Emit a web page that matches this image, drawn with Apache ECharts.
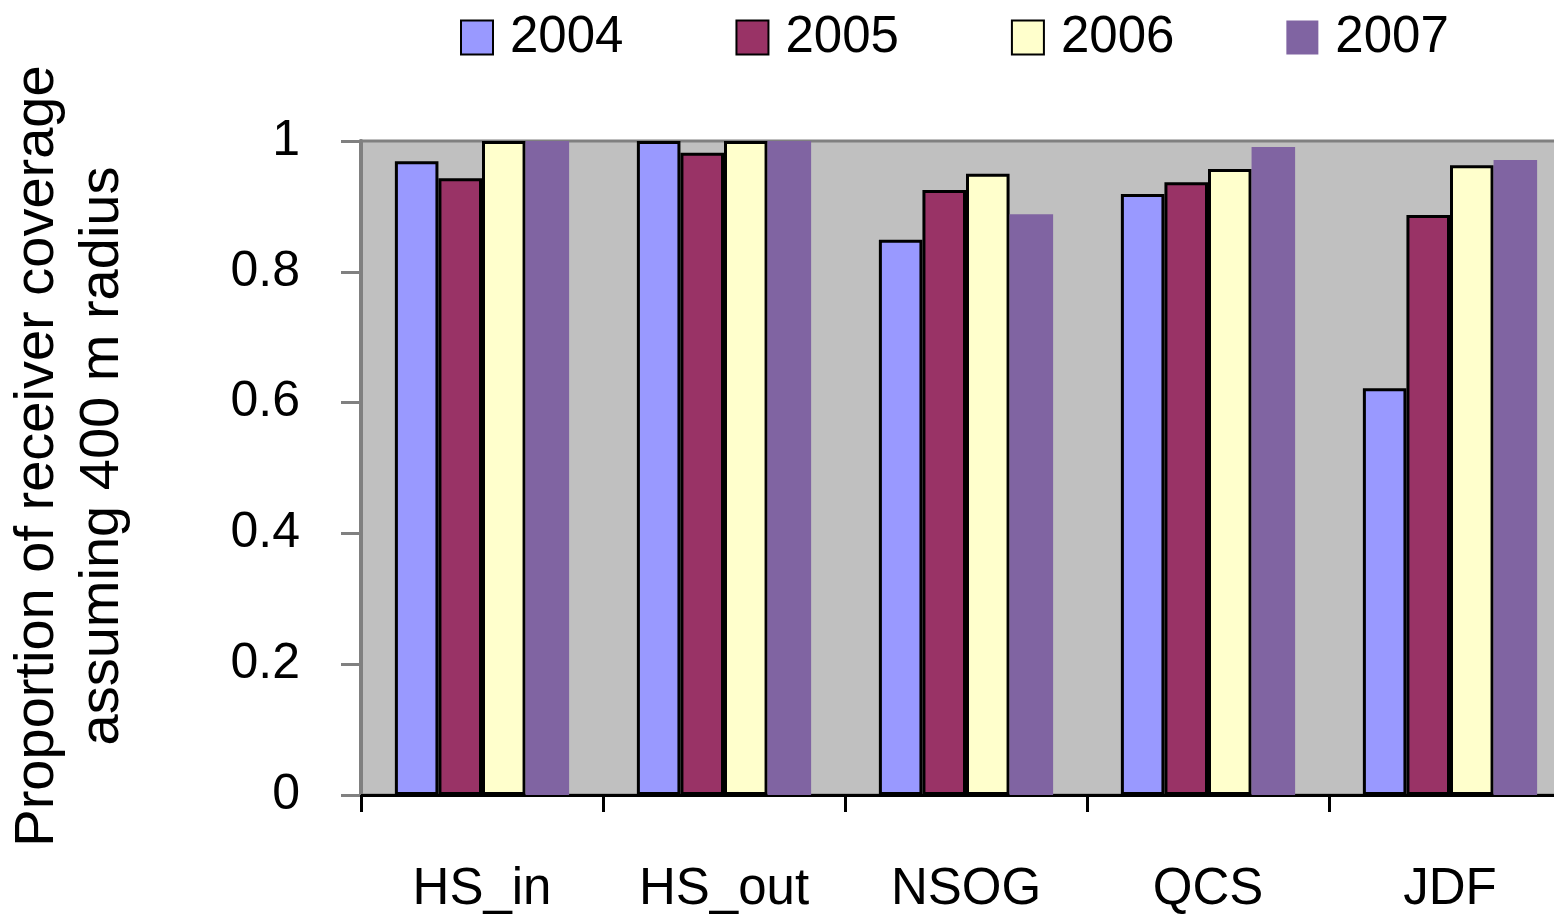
<!DOCTYPE html>
<html>
<head>
<meta charset="utf-8">
<script src="https://cdn.jsdelivr.net/npm/echarts@6/dist/echarts.min.js"></script>
<style>
  html, body { margin: 0; padding: 0; background: #fff; }
  #chart { width: 1554px; height: 922px; }
</style>
</head>
<body>
<div id="chart"></div>
<script>
var categories = ['HS_in', 'HS_out', 'NSOG', 'QCS', 'JDF'];
var years = ['2004', '2005', '2006', '2007'];
var v2004 = [0.969, 1.0, 0.849, 0.919, 0.622];
var v2005 = [0.943, 0.982, 0.925, 0.937, 0.887];
var v2006 = [1.0, 1.0, 0.950, 0.957, 0.963];
var v2007 = [1.0, 1.0, 0.888, 0.991, 0.971];
var yTicks = [0, 0.2, 0.4, 0.6, 0.8, 1];

var font = '"Liberation Sans", Arial, sans-serif';
var colors = ['#9999FF', '#993366', '#FFFFCC', '#8064A2'];
var values = [v2004, v2005, v2006, v2007];

var series = [];
for (var i = 0; i < years.length; i++) {
    var bordered = i < 3;
    series.push({
        name: years[i],
        type: 'bar',
        data: values[i],
        barGap: '0%',
        barCategoryGap: '28%',
        itemStyle: {
            color: colors[i],
            borderColor: bordered ? '#000' : colors[i],
            borderWidth: bordered ? 3 : 0
        }
    });
}

var myChart = echarts.init(document.getElementById('chart'));
var option = {
    animation: false,
    textStyle: { fontFamily: font },
    legend: {
        left: 455,
        top: 7,
        icon: 'rect',
        itemWidth: 32,
        itemHeight: 34,
        itemGap: 112,
        textStyle: { fontSize: 51, color: '#000', fontFamily: font, padding: [0, 0, 0, 12] },
        data: years
    },
    grid: {
        show: true,
        left: 361,
        top: 141,
        bottom: 127,
        right: -17,
        containLabel: false,
        outerBoundsMode: 'none',
        backgroundColor: '#C0C0C0',
        borderColor: '#808080',
        borderWidth: 3
    },
    xAxis: {
        type: 'category',
        data: categories,
        axisLine: { lineStyle: { color: '#000', width: 3 } },
        axisTick: { show: true, length: 17, lineStyle: { color: '#000', width: 3 } },
        axisLabel: { fontSize: 51, color: '#000', margin: 69, fontFamily: font },
        splitLine: { show: false }
    },
    yAxis: {
        type: 'value',
        min: 0,
        max: 1,
        interval: 0.2,
        name: 'Proportion of receiver coverage\nassuming 400 m radius',
        nameLocation: 'middle',
        nameGap: 226,
        nameTextStyle: { fontSize: 56, color: '#000', lineHeight: 65, fontFamily: font, padding: [0, 0, 0, 24] },
        axisLine: { show: true, lineStyle: { color: '#808080', width: 4 } },
        axisTick: { show: true, length: 20, lineStyle: { color: '#808080', width: 3 } },
        axisLabel: {
            fontSize: 50, color: '#000', margin: 61, fontFamily: font,
            formatter: function (v) {
                for (var k = 0; k < yTicks.length; k++) {
                    if (Math.abs(yTicks[k] - v) < 1e-9) return String(yTicks[k]);
                }
                return '';
            }
        },
        splitLine: { show: false }
    },
    series: series
};
myChart.setOption(option);
</script>
</body>
</html>
